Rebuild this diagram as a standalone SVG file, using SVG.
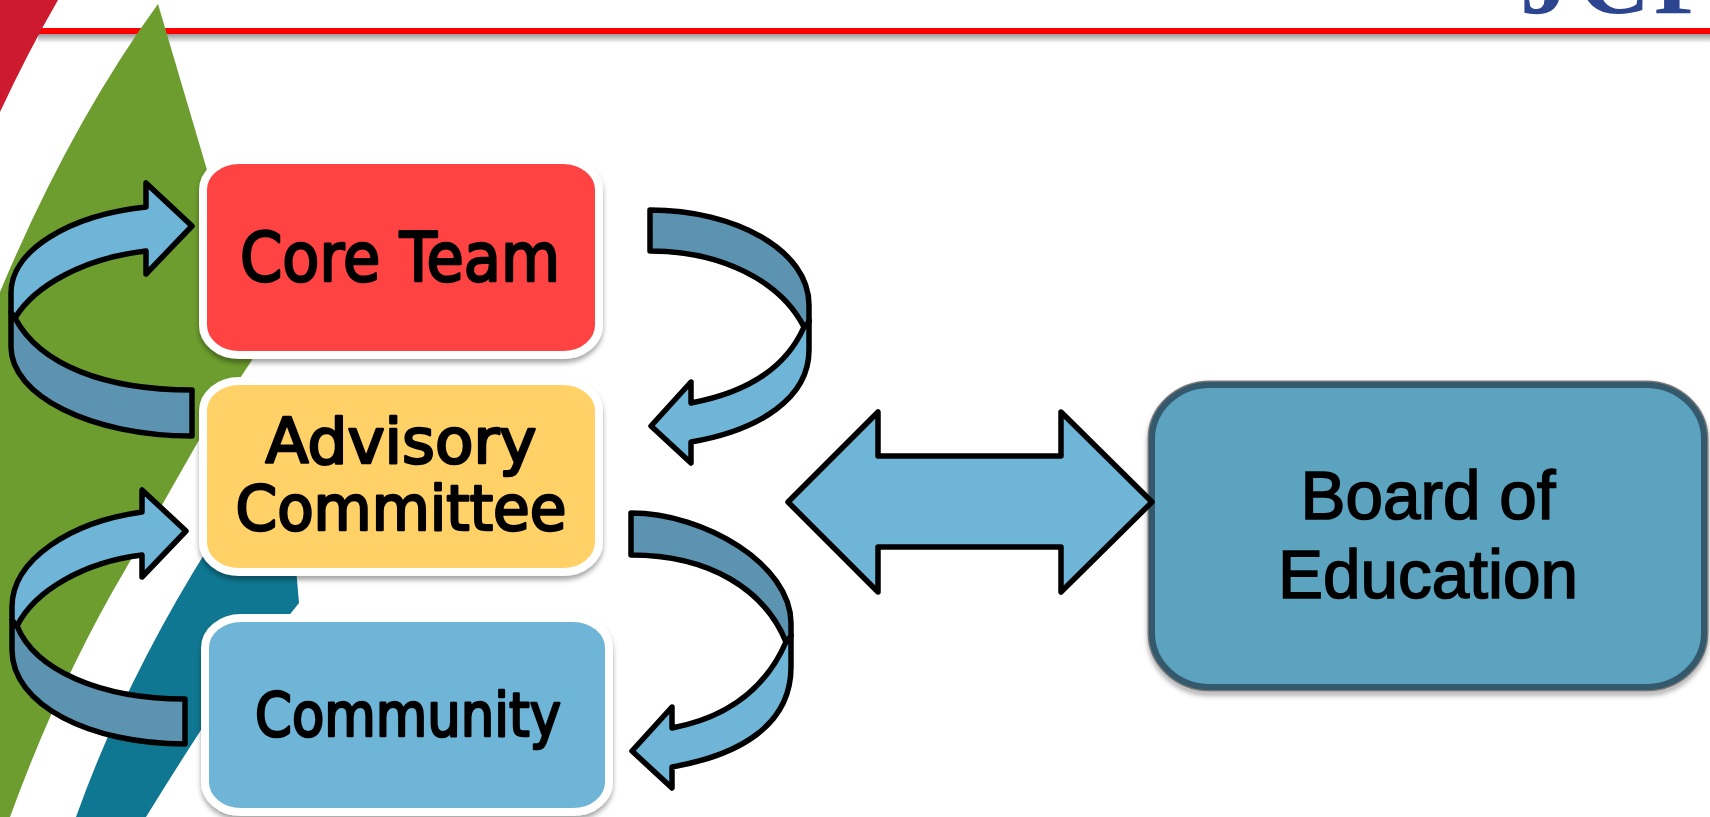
<svg xmlns="http://www.w3.org/2000/svg" width="1710" height="817" viewBox="0 0 1710 817">
<style>
.box{stroke:#fff;stroke-width:8;filter:url(#sh)}
.t{fill:#000;stroke:#000;stroke-width:2.6;stroke-linejoin:round;font-family:"DejaVu Sans","Noto Sans",sans-serif;text-anchor:middle}
.b{fill:#000;font-family:"Liberation Sans",Arial,sans-serif;text-anchor:middle;font-size:68px;stroke:#000;stroke-width:1.6}
.lt{fill:#6EB5D7}.dk{fill:#5B93B0}
.lt,.dk,.dbl{stroke:#000;stroke-width:5.5;stroke-linejoin:round}
.dbl{fill:#6EB5D7}
</style>
<defs>
<filter id="sh" x="-10%" y="-10%" width="120%" height="125%"><feDropShadow dx="0" dy="4" stdDeviation="2.5" flood-color="#000" flood-opacity=".35"/></filter>
<linearGradient id="ls" x1="0" y1="0" x2="0" y2="1"><stop offset="0" stop-color="#999"/><stop offset="1" stop-color="#fff"/></linearGradient>
</defs>
<rect width="1710" height="817" fill="#fff"/>
<g id="background">
<rect x="38" y="34" width="1672" height="9" fill="url(#ls)"/>
<rect x="0" y="28" width="1710" height="6" fill="#FF0000"/>
<path d="M0,0H58Q28,52 0,112Z" fill="#CE1A2F"/>
<path d="M158,4Q70,125 0,292V817H10Q60,680 125,570L199,440L252,360L207,170Z" fill="#6C9D2E"/>
<path d="M210,545Q125,680 76,817H146Q175,770 201,730L291,613L299,603L294,545Z" fill="#0F7791"/>
<text x="1520 1578 1654" y="13" font-family="'Liberation Serif',serif" font-weight="700" font-size="100" fill="#2B4590">JCP</text>
</g>
<g id="node-core-team">
<rect class="box" x="203" y="160" width="396" height="195" rx="36" ry="30" fill="#FF4343"/>
<text class="t" x="400" y="281" font-size="67" textLength="320" lengthAdjust="spacingAndGlyphs">Core Team</text>
</g>
<g id="node-advisory">
<rect class="box" x="203" y="381" width="396" height="191" rx="36" ry="30" fill="#FFD166"/>
<text class="t" x="401" y="463" font-size="62" textLength="271" lengthAdjust="spacingAndGlyphs">Advisory</text>
<text class="t" x="401" y="530" font-size="62" textLength="331" lengthAdjust="spacingAndGlyphs">Committee</text>
</g>
<g id="node-community">
<rect class="box" x="205" y="618" width="404" height="194" rx="36" ry="30" fill="#6EB5D7"/>
<text class="t" x="408" y="736" font-size="60" textLength="306" lengthAdjust="spacingAndGlyphs">Community</text>
</g>
<g id="node-board">
<rect x="1150" y="383" width="556" height="306" rx="60" ry="56" fill="none" stroke="#777" stroke-width="5" filter="url(#sh)"/>
<rect x="1152" y="385" width="552" height="302" rx="58" ry="54" fill="#5BA3BF" stroke="#35596C" stroke-width="6"/>
<text class="b" x="1428" y="519" textLength="255" lengthAdjust="spacingAndGlyphs">Board of</text>
<text class="b" x="1428" y="598" textLength="300" lengthAdjust="spacingAndGlyphs">Education</text>
</g>
<g id="connectors">
<path class="dbl" d="M788,502L878,412V456H1061V412L1152,502L1061,592V547H878V592Z"/>
<g id="arrow-a">
<path class="lt" d="M804,327C785,370 745,393 691,403V382L651,426L691,463V442C760,430 809,398 809,350V320Z"/>
<path class="dk" d="M650,210C735,210 809,250 809,305V322L804,327C780,280 720,251 650,251Z"/>
</g>
<g id="arrow-b">
<path class="lt" d="M786,642C765,690 725,718 672,728V707L632,751L672,788V767C740,755 791,725 791,667V635Z"/>
<path class="dk" d="M631,513C705,513 791,565 791,623V636L786,642C765,590 710,555 631,555Z"/>
</g>
<g id="arrow-c">
<path class="dk" d="M15,318C40,365 105,390 192,390V436C90,436 11,395 11,347V312Z"/>
<path class="lt" d="M15,318C35,285 85,258 146,251V274L192,226L146,183V207C70,215 11,250 11,293V312Z"/>
</g>
<g id="arrow-d">
<path class="dk" d="M17,626C35,670 100,699 185,699V744C90,744 12,705 12,650V620Z"/>
<path class="lt" d="M17,626C35,590 85,562 142,555V577L186,531L142,490V512C70,522 12,560 12,607V620Z"/>
</g>
</g>
</svg>
